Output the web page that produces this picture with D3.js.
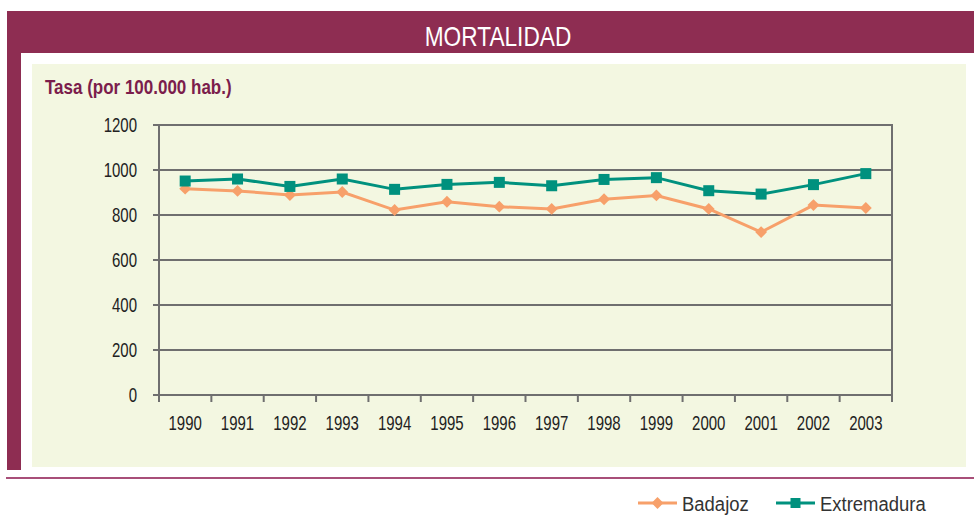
<!DOCTYPE html>
<html>
<head>
<meta charset="utf-8">
<script src="https://cdn.jsdelivr.net/npm/d3@7"></script>
<style>
  body { margin: 0; background: #fff; }
  text { font-family: "Liberation Sans", Arial, sans-serif; }
</style>
</head>
<body>
<div id="chart"></div>
<script>
// data
let years = ['1990', '1991', '1992', '1993', '1994', '1995', '1996', '1997', '1998', '1999', '2000', '2001', '2002', '2003']
let badajoz = [917, 907, 889, 902, 822, 859, 837, 827, 870, 887, 827, 724, 844, 831]
let extremadura = [951, 960, 927, 960, 914, 936, 945, 930, 958, 966, 908, 893, 935, 984]
let yTicks = [0, 200, 400, 600, 800, 1000, 1200]
let seriesNames = ['Badajoz', 'Extremadura']

let width = 974,
  height = 515

let purple = '#8e2d52'
let orange = '#f7a06a'
let teal = '#00917e'
let gridColor = '#6f6f6f'

let svg = d3.select('#chart')
  .append('svg')
  .attr('width', width)
  .attr('height', height)

// condensed look: squeeze text horizontally
function narrow(sel, xf, yf, sx) {
  return sel.attr('transform', (d, i) => 'translate(' + xf(d, i) + ',' + yf(d, i) + ') scale(' + sx + ',1)')
}

// frame: header band, left column, panel
svg.append('rect').attr('x', 7).attr('y', 11).attr('width', width - 7).attr('height', 42).attr('fill', purple)
svg.append('rect').attr('x', 7).attr('y', 11).attr('width', 14).attr('height', 459).attr('fill', purple)
svg.append('rect').attr('x', 32).attr('y', 64).attr('width', 934).attr('height', 403).attr('fill', '#f3f7e1')
svg.append('rect').attr('x', 6).attr('y', 477).attr('width', width - 6).attr('height', 2).attr('fill', '#a84f79')

narrow(svg.append('text'), () => 498, () => 46, 0.84)
  .attr('text-anchor', 'middle')
  .attr('fill', '#fff')
  .style('font-size', '27px')
  .text('MORTALIDAD')

narrow(svg.append('text'), () => 45, () => 94, 0.85)
  .attr('fill', '#7b1d4c')
  .style('font-size', '20px')
  .style('font-weight', 'bold')
  .text('Tasa (por 100.000 hab.)')

let margin = { left: 159, right: 892, top: 125, bottom: 395 }

let x = d3.scaleBand().domain(years).range([margin.left, margin.right])
let y = d3.scaleLinear().domain([0, 1200]).range([margin.bottom, margin.top])

// horizontal gridlines
svg.append('g')
  .selectAll('line')
  .data(yTicks)
  .enter().append('line')
  .attr('x1', margin.left - 6)
  .attr('x2', margin.right)
  .attr('y1', d => y(d))
  .attr('y2', d => y(d))
  .attr('stroke', gridColor)
  .attr('stroke-width', 2)

// plot border left and right
svg.append('line').attr('x1', margin.left).attr('x2', margin.left).attr('y1', margin.top - 1).attr('y2', margin.bottom + 7)
  .attr('stroke', gridColor).attr('stroke-width', 2)
svg.append('line').attr('x1', margin.right).attr('x2', margin.right).attr('y1', margin.top - 1).attr('y2', margin.bottom + 7)
  .attr('stroke', gridColor).attr('stroke-width', 2)

// y labels
narrow(svg.append('g')
  .selectAll('text')
  .data(yTicks)
  .enter().append('text'), () => 137, d => y(d) + 7, 0.75)
  .attr('text-anchor', 'end')
  .attr('fill', '#222')
  .style('font-size', '20px')
  .text(d => d)

// x ticks between categories
svg.append('g')
  .selectAll('line')
  .data(years.slice(1))
  .enter().append('line')
  .attr('x1', d => x(d))
  .attr('x2', d => x(d))
  .attr('y1', margin.bottom)
  .attr('y2', margin.bottom + 7)
  .attr('stroke', gridColor)
  .attr('stroke-width', 2)

narrow(svg.append('g')
  .selectAll('text')
  .data(years)
  .enter().append('text'), d => x(d) + x.bandwidth() / 2, () => 430, 0.75)
  .attr('text-anchor', 'middle')
  .attr('fill', '#222')
  .style('font-size', '20px')
  .text(d => d)

let cx = (d, i) => x(years[i]) + x.bandwidth() / 2

let line = d3.line()
  .x(cx)
  .y(d => y(d))

let diamond = d3.symbol().type(d3.symbolDiamond2).size(90)

// Badajoz
svg.append('path')
  .datum(badajoz)
  .attr('d', line)
  .attr('fill', 'none')
  .attr('stroke', orange)
  .attr('stroke-width', 3)

svg.append('g')
  .selectAll('path')
  .data(badajoz)
  .enter().append('path')
  .attr('d', diamond)
  .attr('transform', (d, i) => 'translate(' + cx(d, i) + ',' + y(d) + ')')
  .attr('fill', orange)

// Extremadura
svg.append('path')
  .datum(extremadura)
  .attr('d', line)
  .attr('fill', 'none')
  .attr('stroke', teal)
  .attr('stroke-width', 3)

svg.append('g')
  .selectAll('rect')
  .data(extremadura)
  .enter().append('rect')
  .attr('x', (d, i) => cx(d, i) - 5.5)
  .attr('y', d => y(d) - 5.5)
  .attr('width', 11)
  .attr('height', 11)
  .attr('fill', teal)

// legend
let legendX = [638, 776]
let legendColors = [orange, teal]
let legend = svg.append('g')
  .selectAll('g')
  .data(seriesNames)
  .enter().append('g')
  .attr('transform', (d, i) => 'translate(' + legendX[i] + ',503)')

legend.append('line')
  .attr('x1', 0).attr('x2', 39)
  .attr('stroke', (d, i) => legendColors[i])
  .attr('stroke-width', 3)

legend.each(function (d, i) {
  let g = d3.select(this)
  if (i === 0) {
    g.append('path').attr('d', diamond).attr('transform', 'translate(19.5,0)').attr('fill', orange)
  } else {
    g.append('rect').attr('x', 14.5).attr('y', -5).attr('width', 10).attr('height', 10).attr('fill', teal)
  }
})

narrow(legend.append('text'), () => 44, () => 8, 0.88)
  .attr('fill', '#333')
  .style('font-size', '21px')
  .text(d => d)
</script>
</body>
</html>
